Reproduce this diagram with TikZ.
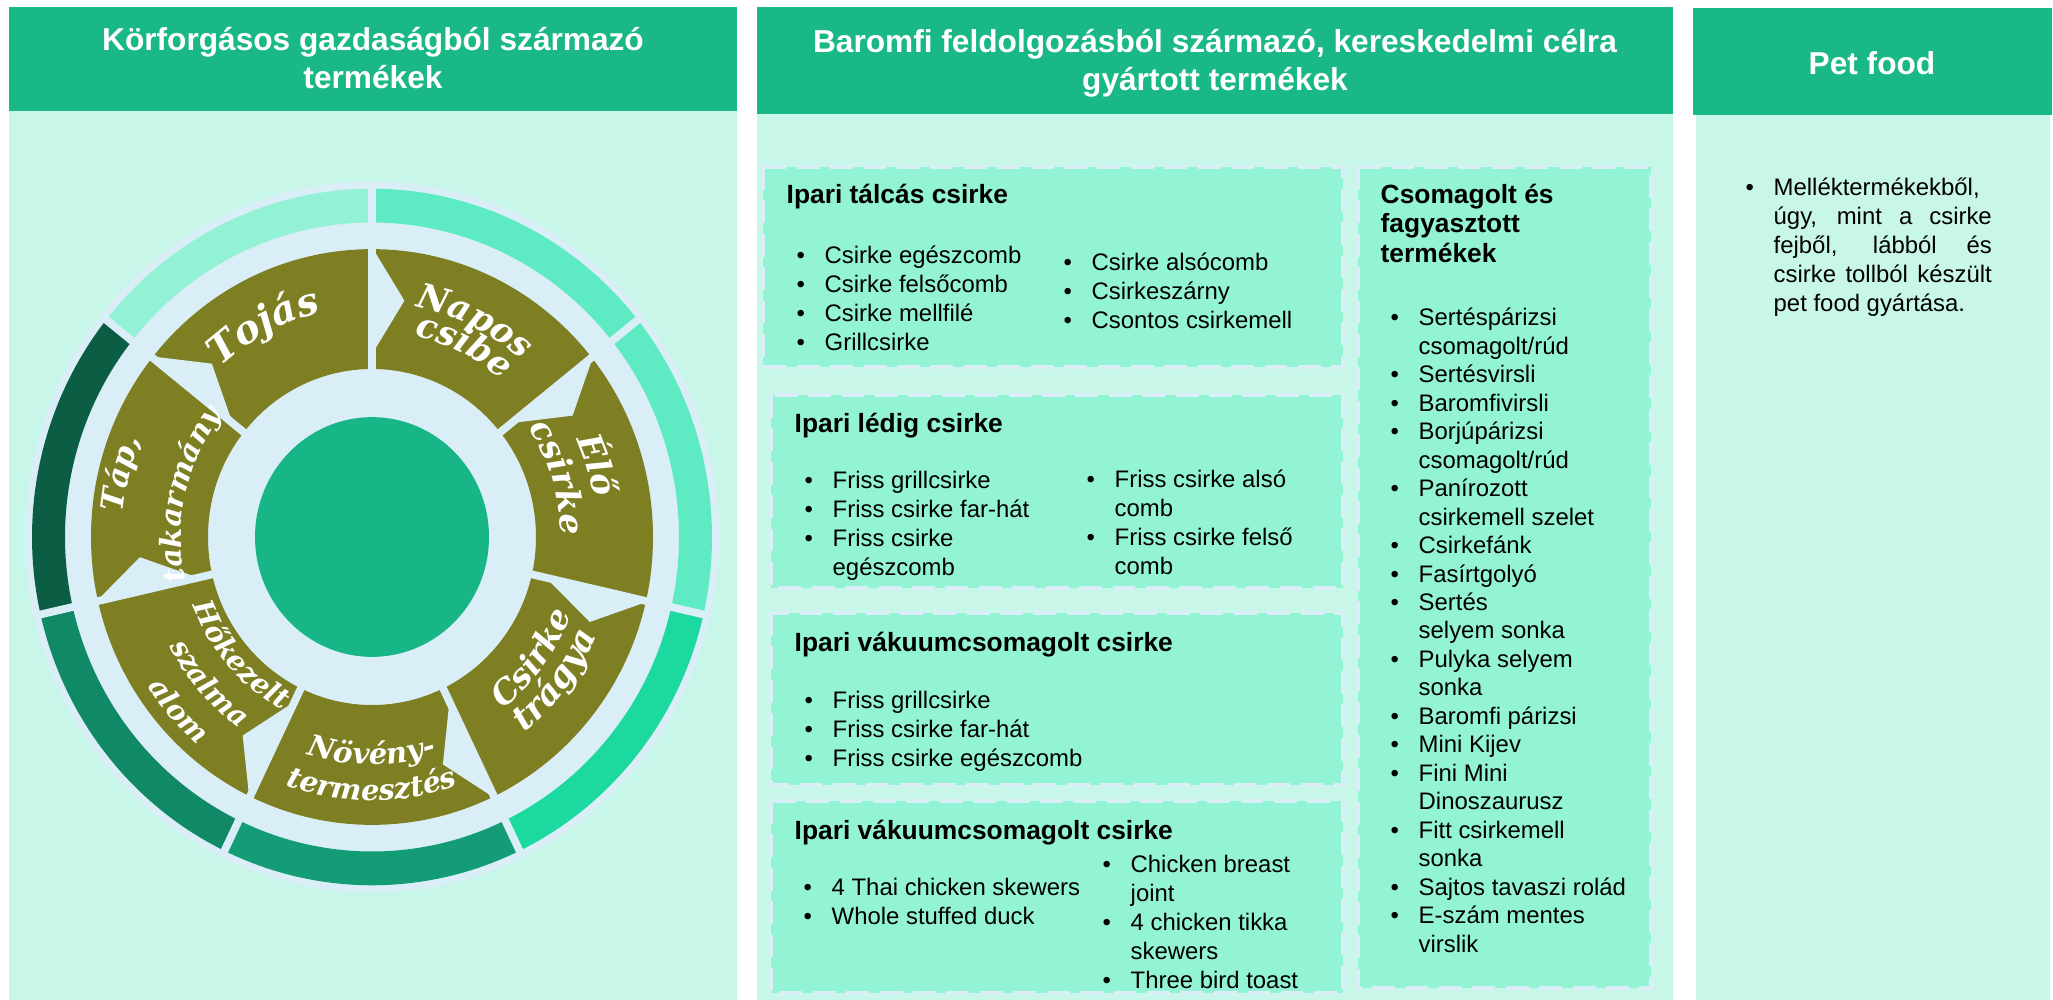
\documentclass[tikz,border=0pt]{standalone}
\usepackage{fontspec}
\setmainfont{Liberation Sans}
\newfontfamily\wheelfont{DejaVu Serif}
\usetikzlibrary{decorations.text}

\definecolor{headgreen}{HTML}{19B886}
\definecolor{bodymint}{HTML}{C8F6E9}
\definecolor{boxmint}{HTML}{92F3D5}
\definecolor{paleblue}{HTML}{DAEEF7}
\definecolor{olivegreen}{HTML}{7E7F23}
\definecolor{diskgreen}{HTML}{18B687}
\definecolor{ringA}{HTML}{93F2D6}
\definecolor{ringB}{HTML}{5EEBC4}
\definecolor{ringC}{HTML}{1CD9A0}
\definecolor{ringD}{HTML}{139C76}
\definecolor{ringE}{HTML}{0F8966}
\definecolor{ringF}{HTML}{0B5D44}

\newcommand{\wf}[1]{\fontsize{#1}{#1}\selectfont\wheelfont\bfseries\itshape\color{white}}
\newcommand{\blist}[1]{\begin{tabular}{@{}l@{\hspace{0.196cm}}l@{}}#1\end{tabular}}

\tikzset{
  headtext/.style={text=white, font=\fontsize{9}{10.8}\selectfont\bfseries, align=center, inner sep=0pt},
  boxtitle/.style={anchor=base west, inner sep=0pt, align=left, font=\fontsize{7.5}{8.5}\selectfont\bfseries},
  itemlist/.style={anchor=north west, inner sep=0pt, font=\fontsize{6.8}{8.2}\selectfont},
  dashbox/.style={fill=boxmint, draw=paleblue, line width=1.1pt, dash pattern=on 6.5pt off 3pt},
  wlabel/.style={decorate, decoration={text along path, text align=center, text={#1}}},
}

\begin{document}
\begin{tikzpicture}[x=0.01cm, y=-0.01cm, line join=round]
		\useasboundingbox (0,0) rectangle (2053,1000);
		\fill[white] (0,0) rectangle (2053,1000);
		% three columns
		\fill[headgreen] (9,7) rectangle (737,111);
		\fill[bodymint] (9,111) rectangle (737,1000);
		\fill[headgreen] (757,7) rectangle (1673,114);
		\fill[bodymint] (757,114) rectangle (1673,1000);
		\fill[headgreen] (1693,8) rectangle (2052,115);
		\fill[bodymint] (1696,115) rectangle (2050,1000);
		\node[headtext] (circhead) at (373,58) {Körforgásos gazdaságból származó\\termékek};
		\node[headtext] (prochead) at (1215,63) {Baromfi feldolgozásból származó, kereskedelmi célra\\gyártott termékek};
		\node[headtext, anchor=base] (pethead) at (1872,74) {Pet food};

		% product boxes
		\draw[dashbox] (763,167) rectangle (1343,367);
		\draw[dashbox] (771,395) rectangle (1343,588);
		\draw[dashbox] (771,613) rectangle (1343,785);
		\draw[dashbox] (771,801) rectangle (1343,993);
		\draw[dashbox] (1358,167) rectangle (1651,988);

		\node[boxtitle] (tray) at (786,203) {Ipari tálcás csirke};
		\node[itemlist] (trayA) at (796,243) {\blist{\textbullet & Csirke egészcomb\\ \textbullet & Csirke felsőcomb\\ \textbullet & Csirke mellfilé\\ \textbullet & Grillcsirke}};
		\node[itemlist] (trayB) at (1063,250) {\blist{\textbullet & Csirke alsócomb\\ \textbullet & Csirkeszárny\\ \textbullet & Csontos csirkemell}};

		\node[boxtitle] (bulk) at (794,432) {Ipari lédig csirke};
		\node[itemlist] (bulkA) at (804,468) {\blist{\textbullet & Friss grillcsirke\\ \textbullet & Friss csirke far-hát\\ \textbullet & Friss csirke\\ & egészcomb}};
		\node[itemlist] (bulkB) at (1086,467) {\blist{\textbullet & Friss csirke alsó\\ & comb\\ \textbullet & Friss csirke felső\\ & comb}};

		\node[boxtitle] (vacA) at (794,651) {Ipari vákuumcsomagolt csirke};
		\node[itemlist] (vacAlist) at (804,688) {\blist{\textbullet & Friss grillcsirke\\ \textbullet & Friss csirke far-hát\\ \textbullet & Friss csirke egészcomb}};

		\node[boxtitle] (vacB) at (794,839) {Ipari vákuumcsomagolt csirke};
		\node[itemlist] (vacBlistA) at (803,875) {\blist{\textbullet & 4 Thai chicken skewers\\ \textbullet & Whole stuffed duck}};
		\node[itemlist] (vacBlistB) at (1102,852) {\blist{\textbullet & Chicken breast\\ & joint\\ \textbullet & 4 chicken tikka\\ & skewers\\ \textbullet & Three bird toast}};

		\node[boxtitle, anchor=north west] (frozen) at (1380,183) {Csomagolt és\\fagyasztott\\termékek};
		\node[itemlist, font=\fontsize{6.8}{8.1}\selectfont] (frozenlist) at (1390,305) {\blist{\textbullet & Sertéspárizsi\\ & csomagolt/rúd\\ \textbullet & Sertésvirsli\\ \textbullet & Baromfivirsli\\ \textbullet & Borjúpárizsi\\ & csomagolt/rúd\\ \textbullet & Panírozott\\ & csirkemell szelet\\ \textbullet & Csirkefánk\\ \textbullet & Fasírtgolyó\\ \textbullet & Sertés\\ & selyem sonka\\ \textbullet & Pulyka selyem\\ & sonka\\ \textbullet & Baromfi párizsi\\ \textbullet & Mini Kijev\\ \textbullet & Fini Mini\\ & Dinoszaurusz\\ \textbullet & Fitt csirkemell\\ & sonka\\ \textbullet & Sajtos tavaszi rolád\\ \textbullet & E-szám mentes\\ & virslik}};

		\node[itemlist] (petlist) at (1745,175) {\blist{\textbullet & Melléktermékekből,\\ & \makebox[2.18cm][s]{úgy, mint a csirke}\\ & \makebox[2.18cm][s]{fejből, lábból és}\\ & \makebox[2.18cm][s]{csirke tollból készült}\\ & pet food gyártása.}};

		% circular economy wheel
		\begin{scope}[shift={(372,537)}, y=0.01024cm]
			\fill[paleblue] (0,0) circle (347);
			\foreach \c [count=\i from 0] in {ringA,ringF,ringE,ringD,ringC,ringB,ringB}{
				\pgfmathsetmacro\a{90+\i*360/7}
				\pgfmathsetmacro\b{\a+360/7}
				\fill[\c] (\a:307) arc[start angle=\a, end angle=\b, radius=307] -- (\b:340) arc[start angle=\b, end angle=\a, radius=340] -- cycle;
			}
			\fill[olivegreen, even odd rule] (0,0) circle (281) (0,0) circle (164);
			\foreach \k in {0,...,6}{
				\pgfmathsetmacro\p{90-\k*360/7}
				\draw[paleblue, line width=2.2pt] (\p:160) -- (\p:285) (\p:303) -- (\p:347);
				\fill[paleblue] ({\p-0.5}:279) -- ({\p-8}:233) -- ({\p-0.5}:181) -- cycle;
			}
			\fill[diskgreen] (0,0) circle (117);
			% labels, top half
			\path[wlabel={|\wf{11}|Tojás}] (157.5:225) arc[start angle=157.5, end angle=77.5, radius=225];
			\path[wlabel={|\wf{9.8}|Napos}] (104.3:229) arc[start angle=104.3, end angle=24.3, radius=229];
			\path[wlabel={|\wf{9.8}|csibe}] (104:201) arc[start angle=104, end angle=24, radius=201];
			\path[wlabel={|\wf{9.6}|Élő}] (57.5:225) arc[start angle=57.5, end angle=-22.5, radius=225];
			\path[wlabel={|\wf{9.5}|csirke}] (57.5:189) arc[start angle=57.5, end angle=-22.5, radius=189];
			\path[wlabel={|\wf{8.8}|Táp,}] (206:250) arc[start angle=206, end angle=126, radius=250];
			\path[wlabel={|\wf{8.3}|takarmány}] (207:191) arc[start angle=207, end angle=127, radius=191];
			% labels, bottom half
			\path[wlabel={|\wf{9.4}|Csirke}] (-76.5:213) arc[start angle=-76.5, end angle=3.5, radius=213];
			\path[wlabel={|\wf{9.8}|trágya}] (-77.5:244) arc[start angle=-77.5, end angle=2.5, radius=244];
			\path[wlabel={|\wf{8.3}|Növény-}] (-130:222) arc[start angle=-130, end angle=-50, radius=222];
			\path[wlabel={|\wf{8.2}|termesztés}] (-130:257) arc[start angle=-130, end angle=-50, radius=257];
			\path[wlabel={|\wf{8}|Hőkezelt}] (-178.5:191) arc[start angle=-178.5, end angle=-98.5, radius=191];
			\path[wlabel={|\wf{8}|szalma}] (-178.5:229) arc[start angle=-178.5, end angle=-98.5, radius=229];
			\path[wlabel={|\wf{8}|alom}] (-178.5:268) arc[start angle=-178.5, end angle=-98.5, radius=268];
		\end{scope}
\end{tikzpicture}
\end{document}
